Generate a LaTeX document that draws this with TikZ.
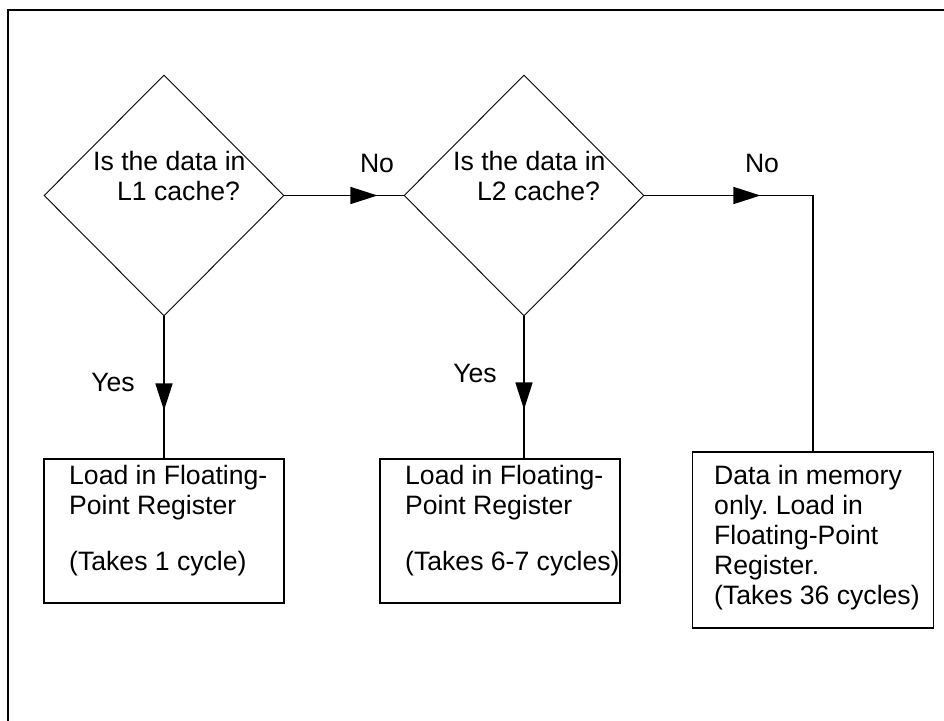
\documentclass[tikz,border=0pt]{standalone}
\usepackage{fontspec}
\setmainfont{Liberation Sans}
\frenchspacing
\usetikzlibrary{shapes.geometric,arrows.meta,decorations.markings}
\begin{document}
\begin{tikzpicture}[x=1pt,y=-1pt,
  every node/.style={font=\fontsize{26.6}{30}\selectfont},
  decision/.style={draw,diamond,aspect=1,minimum width=240pt,minimum height=241pt,inner sep=0pt,line width=0.9pt},
  procbox/.style={draw,rectangle,line width=1.5pt,inner sep=0pt},
  btext/.style={anchor=north west,inner sep=0pt,align=left},
  lbl/.style={inner sep=0pt},
  conn/.style={line width=1.5pt,postaction={decorate},
    decoration={markings,mark=at position #1 with {\arrow{Triangle[length=27pt,width=17pt]}}}}
]
\useasboundingbox (0,0) rectangle (944,720);
% outer frame
\draw[line width=1.2pt] (8,740) -- (8,10) -- (960,10);

% decisions
\node[decision] (d1) at (164,195.5) {};
\node[decision] (d2) at (524,195.5) {};
\node[btext] (d1t) at (93,151) {Is the data in\\\hspace*{24pt}L1 cache?};
\node[btext] (d2t) at (453,151) {Is the data in\\\hspace*{24pt}L2 cache?};

% boxes
\node[procbox,minimum width=240pt,minimum height=144pt] (b1) at (164,531) {};
\node[procbox,minimum width=240pt,minimum height=144pt] (b2) at (500,531) {};
\node[procbox,minimum width=241pt,minimum height=176pt] (b3) at (813,540) {};
\node[btext] (b1t) at (69,465) {Load in Floating-\\Point Register\\[26pt](Takes 1 cycle)};
\node[btext] (b2t) at (405,465) {Load in Floating-\\Point Register\\[26pt](Takes 6-7 cycles)};
\node[btext] (b3t) at (714,465) {Data in memory\\only. Load in\\Floating-Point\\Register.\\(Takes 36 cycles)};

% connectors
\draw[conn=93pt] (d1.east) -- (d2.west);
\draw[conn=116pt] (d2.east) -- (d2.east -| b3.north) -- (b3.north);
\draw[conn=94pt] (d1.south) -- (d1.south |- b1.north);
\draw[conn=93pt] (d2.south) -- (d2.south |- b2.north);

% labels
\node[lbl] (no1) at (377,163) {No};
\node[lbl] (no2) at (762,163) {No};
\node[lbl] (yes1) at (113,382) {Yes};
\node[lbl] (yes2) at (475,373) {Yes};
\end{tikzpicture}
\end{document}
